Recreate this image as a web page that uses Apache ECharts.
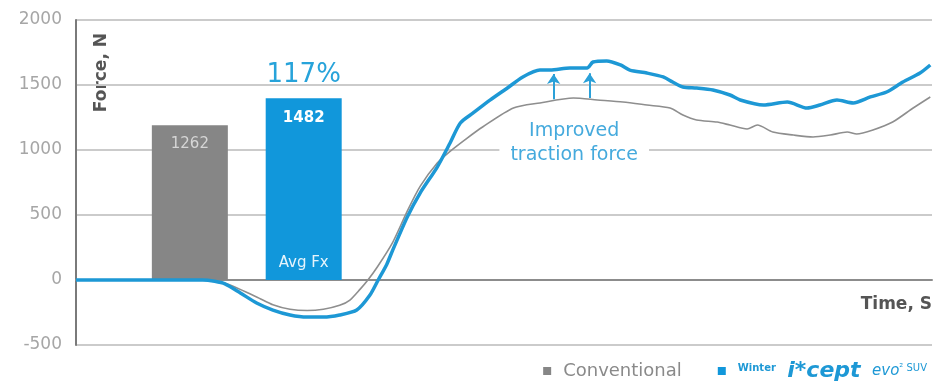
<!DOCTYPE html>
<html>
<head>
<meta charset="utf-8">
<script src="https://cdn.jsdelivr.net/npm/echarts@6/dist/echarts.min.js"></script>
<style>
  html, body { margin: 0; padding: 0; background: #ffffff; }
  #chart { width: 935px; height: 382px; }
</style>
</head>
<body>
<div id="chart"></div>
<script>
// Traction force over time, plus average force bars
const yTicks = [-500, 0, 500, 1000, 1500, 2000];

const iceptTime  = [0, 1.48, 1.62, 1.74, 1.92, 2.11, 2.30, 2.50, 2.70, 2.89, 3.08, 3.28, 3.43, 3.53, 3.63, 3.70,
                    3.87, 4.02, 4.22, 4.37, 4.49, 4.64, 4.84, 5.04, 5.22, 5.42, 5.54, 5.77, 5.97, 6.04, 6.20,
                    6.36, 6.47, 6.67, 6.86, 6.97, 7.09, 7.25, 7.44, 7.64, 7.76, 8.03, 8.31, 8.54, 8.69, 8.89,
                    9.08, 9.28, 9.47, 9.66, 9.86, 9.98];
const iceptForce = [0, 0, -10, -30, -100, -177, -231, -269, -285, -285, -269, -231, -120, 0, 120, 230,
                    485, 669, 869, 1054, 1208, 1285, 1385, 1477, 1562, 1615, 1615, 1631, 1631, 1677, 1685,
                    1654, 1615, 1592, 1562, 1523, 1485, 1477, 1462, 1423, 1385, 1346, 1369, 1323, 1346, 1385,
                    1362, 1408, 1446, 1523, 1592, 1654];

const convTime  = [0, 1.45, 1.74, 2.11, 2.30, 2.50, 2.70, 2.89, 3.08, 3.20, 3.32, 3.41, 3.52, 3.70, 3.87,
                   4.02, 4.22, 4.37, 4.57, 4.75, 5.11, 5.42, 5.81, 6.09, 6.39, 6.67, 6.94, 7.09, 7.25, 7.49,
                   7.64, 7.84, 7.96, 8.14, 8.38, 8.61, 8.81, 9.01, 9.12, 9.31, 9.54, 9.78, 9.98];
const convForce = [0, 0, -25, -130, -190, -225, -235, -225, -195, -154, -70, 0, 100, 290, 530,
                   720, 900, 990, 1092, 1177, 1323, 1362, 1400, 1385, 1369, 1346, 1323, 1269, 1231, 1215,
                   1192, 1162, 1192, 1138, 1115, 1100, 1115, 1138, 1123, 1154, 1215, 1323, 1408];

// Average Fx bars (drawn inside the plot at their own time slots)
const avgNames = ['Conventional', 'Winter i*cept evo² SUV'];
const avgTime  = [1.33, 2.66];
const avgForce = [1262, 1482];
const avgRatio = '117%';

// Arrows marking the gain between the two curves
const gainTime = [5.58, 6.00];
const gainFrom = [1390, 1400];
const gainTo   = [1585, 1590];

const GRAY = '#868686';
const BLUE = '#1d98d5';
const FONT = 'DejaVu Sans';

const zip = (xs, ys) => xs.map((x, i) => [x, ys[i]]);

const chart = echarts.init(document.getElementById('chart'), null, { renderer: 'canvas' });

chart.setOption({
  animation: false,
  backgroundColor: '#ffffff',
  grid: { left: 76, right: 3, top: 20, bottom: 37, containLabel: false },
  xAxis: {
    type: 'value', min: 0, max: 10,
    axisLine: { show: true, onZero: true, lineStyle: { color: '#8c8c8c', width: 2 } },
    axisTick: { show: false }, axisLabel: { show: false }, splitLine: { show: false }
  },
  yAxis: [{
    type: 'value', min: yTicks[0], max: yTicks[yTicks.length - 1], interval: 500,
    axisLine: { show: true, lineStyle: { color: '#7a7a7a', width: 2 } },
    axisTick: { show: false },
    axisLabel: { color: '#a6a6a6', fontFamily: FONT, fontSize: 17, margin: 14,
                 formatter: v => String(v) },
    splitLine: { lineStyle: { color: '#cbcbcb', width: 2 } }
  }, {
    type: 'value', min: -530, max: 2120, show: false, splitLine: { show: false }
  }],
  legend: {
    right: 3, bottom: -5,
    icon: 'rect', itemWidth: 8, itemHeight: 8, itemGap: 36,
    itemStyle: { borderWidth: 0 },
    data: avgNames,
    formatter: function (name) {
      if (name === avgNames[1]) {
        return '{s|Winter}  {b|i*cept}  {e|evo}{x|² SUV}';
      }
      return name;
    },
    textStyle: {
      fontFamily: FONT, fontSize: 18, color: '#8a8a8a', padding: [0, 0, 0, 7],
      rich: {
        s: { fontSize: 10, fontWeight: 'bold', color: BLUE, fontFamily: FONT, padding: [0, 0, 6, 0] },
        b: { fontSize: 22, fontWeight: 'bold', fontStyle: 'italic', color: BLUE, fontFamily: FONT },
        e: { fontSize: 15, fontStyle: 'italic', color: BLUE, fontFamily: FONT },
        x: { fontSize: 10, color: BLUE, fontFamily: FONT, padding: [0, 0, 6, 0] }
      }
    }
  },
  series: [
    {
      name: avgNames[0], type: 'bar', yAxisIndex: 1, z: 1,
      barWidth: 76, barGap: '-100%',
      itemStyle: { color: GRAY },
      data: [[avgTime[0], avgForce[0]]],
      label: {
        show: true, position: 'insideTop', distance: 11,
        color: '#d6d6d6', fontFamily: FONT, fontSize: 15
      }
    },
    {
      name: avgNames[1], type: 'bar', yAxisIndex: 1, z: 1,
      barWidth: 76, barGap: '-100%',
      itemStyle: { color: '#1197db' },
      data: [[avgTime[1], avgForce[1]]],
      label: {
        show: true, position: 'insideTop', distance: 12,
        color: '#ffffff', fontFamily: FONT, fontSize: 15, fontWeight: 'bold'
      },
      markPoint: {
        symbol: 'circle', symbolSize: 1, itemStyle: { color: 'rgba(0,0,0,0)' },
        data: [
          { coord: [avgTime[1], avgForce[1]],
            label: { show: true, position: 'top', distance: 9, formatter: avgRatio,
                     color: '#27a3da', fontFamily: FONT, fontSize: 26 } },
          { coord: [avgTime[1], 0],
            label: { show: true, position: 'top', distance: 9, formatter: 'Avg Fx',
                     color: '#e6f4fc', fontFamily: FONT, fontSize: 15 } }
        ]
      }
    },
    {
      name: avgNames[0], type: 'line', z: 3, smooth: 0.25,
      symbol: 'none', showSymbol: false,
      itemStyle: { color: GRAY },
      lineStyle: { color: '#8e8e8e', width: 1.6 },
      data: zip(convTime, convForce)
    },
    {
      name: avgNames[1], type: 'line', z: 4, smooth: 0.25,
      symbol: 'none', showSymbol: false,
      itemStyle: { color: BLUE },
      lineStyle: { color: BLUE, width: 3.5 },
      data: zip(iceptTime, iceptForce),
      markLine: {
        silent: true, symbol: ['none', 'arrow'], symbolSize: 10,
        lineStyle: { color: '#2aa0d8', width: 2, type: 'solid' },
        itemStyle: { color: '#2aa0d8' },
        label: { show: false },
        data: gainTime.map((t, i) => [{ coord: [t, gainFrom[i]] }, { coord: [t, gainTo[i]] }])
      },
      markPoint: {
        symbol: 'circle', symbolSize: 1, itemStyle: { color: 'rgba(0,0,0,0)' },
        data: [{
          coord: [5.82, 1054],
          label: {
            show: true, position: 'inside', formatter: 'Improved\ntraction force',
            color: '#45aadd', fontFamily: FONT, fontSize: 19, lineHeight: 24,
            backgroundColor: '#ffffff', padding: [0, 11]
          }
        }]
      }
    }
  ],
  graphic: [
    {
      type: 'text', left: 93, top: 33, rotation: Math.PI / 2,
      style: { text: 'Force, N', fill: '#555555', font: 'bold 17px "DejaVu Sans"' }
    },
    {
      type: 'text', right: 3, top: 296,
      style: { text: 'Time, S', fill: '#555555', font: 'bold 17px "DejaVu Sans"' }
    }
  ]
});
</script>
</body>
</html>
